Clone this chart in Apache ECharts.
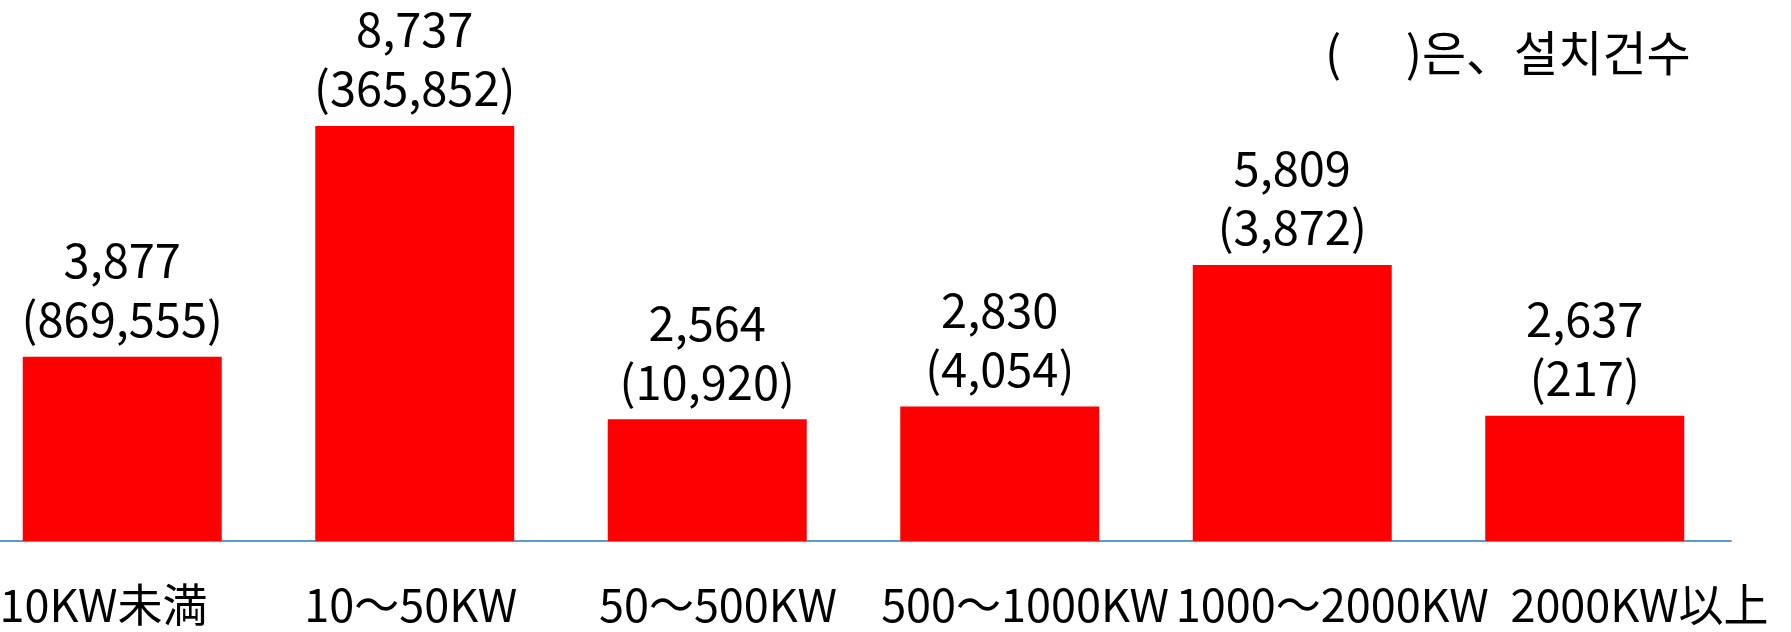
<!DOCTYPE html>
<html>
<head>
<meta charset="utf-8">
<script src="https://cdn.jsdelivr.net/npm/echarts@6/dist/echarts.min.js"></script>
<style>
html,body{margin:0;padding:0;background:#fff;}
#chart{width:1791px;height:632px;}
</style>
</head>
<body>
<div id="chart"></div>
<script>
const categories = ['10KW未満', '10〜50KW', '50〜500KW', '500〜1000KW', '1000〜2000KW', '2000KW以上'];
const capacity = [3877, 8737, 2564, 2830, 5809, 2637];
const installations = [869555, 365852, 10920, 4054, 3872, 217];
const note = '(      )은、설치건수';

const fmt = v => v.toLocaleString('en-US');

const chart = echarts.init(document.getElementById('chart'));
chart.setOption({
  backgroundColor: '#ffffff',
  animation: false,
  grid: [
    { left: -24, right: 60, top: 66, bottom: 91, outerBoundsMode: 'none', containLabel: false },
    { left: -50, right: -2, top: 66, bottom: 91, outerBoundsMode: 'none', containLabel: false }
  ],
  xAxis: [{
    type: 'category',
    gridIndex: 0,
    data: categories,
    axisLine: { show: true, lineStyle: { color: '#5b9bd5', width: 2 } },
    axisTick: { show: false },
    axisLabel: { show: false }
  }, {
    type: 'category',
    gridIndex: 1,
    data: categories,
    axisLine: { show: false },
    axisTick: { show: false },
    axisLabel: {
      interval: 0,
      margin: 41,
      fontFamily: 'Noto Sans CJK JP',
      fontSize: 45,
      color: '#000'
    }
  }],
  yAxis: [{
    type: 'value',
    gridIndex: 0,
    min: 0,
    max: 10000,
    show: false,
    splitLine: { show: false }
  }, {
    type: 'value',
    gridIndex: 1,
    min: 0,
    max: 10000,
    show: false,
    splitLine: { show: false }
  }],
  series: [{
    type: 'bar',
    xAxisIndex: 0,
    yAxisIndex: 0,
    data: capacity,
    barWidth: 199,
    itemStyle: { color: '#ff0000' },
    z: 1,
    label: {
      show: true,
      position: 'top',
      distance: 8,
      formatter: p => fmt(capacity[p.dataIndex]) + '\n(' + fmt(installations[p.dataIndex]) + ')',
      fontFamily: 'Noto Sans CJK KR',
      fontSize: 47,
      lineHeight: 59,
      color: '#000',
      align: 'center'
    }
  }],
  graphic: [{
    type: 'text',
    x: 1325,
    y: 53,
    style: {
      text: note,
      fontFamily: 'Noto Sans CJK KR',
      fontSize: 48,
      fill: '#000',
      verticalAlign: 'middle'
    }
  }]
});
</script>
</body>
</html>
